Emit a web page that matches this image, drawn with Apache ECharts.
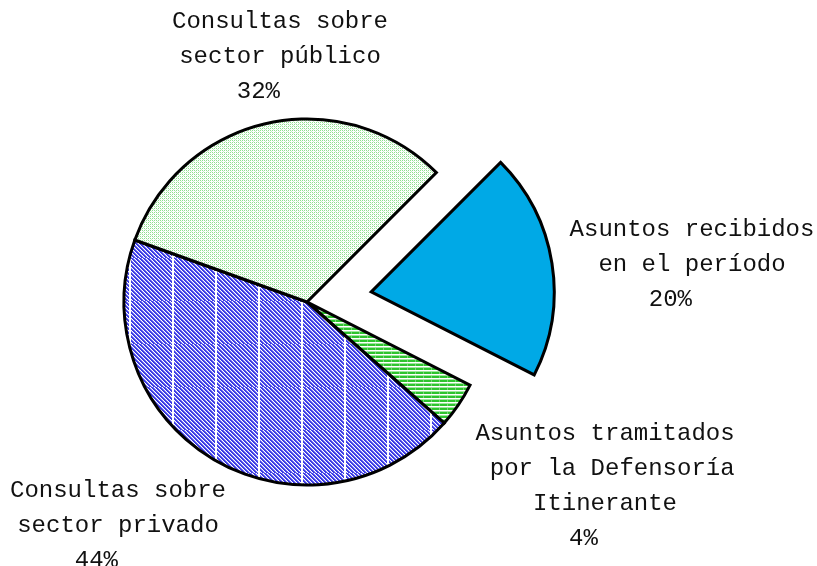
<!DOCTYPE html>
<html>
<head>
<meta charset="utf-8">
<script src="https://cdn.jsdelivr.net/npm/echarts@6/dist/echarts.min.js"></script>
<style>
  html, body { margin: 0; padding: 0; background: #fff; }
  #chart { width: 817px; height: 566px; }
</style>
</head>
<body>
<div id="chart"></div>
<script>
// datos del gráfico (orden horario desde arriba a la derecha)
const categories = [
  'Asuntos recibidos\nen el período',
  'Asuntos tramitados\n por la Defensoría\nItinerante',
  'Consultas sobre\nsector privado',
  'Consultas sobre\nsector público'
]
const values = [20, 4, 44, 32]
const percentLabels = ['20%', '4%', '44%', '32%']

// posición de cada rótulo (centro del bloque de texto)
const labelPos = [[692, 265], [605, 486], [118, 526], [280, 57]]

// tramas de relleno
function makeTile (w, h, draw) {
  const c = document.createElement('canvas')
  c.width = w
  c.height = h
  const ctx = c.getContext('2d')
  ctx.fillStyle = '#fff'
  ctx.fillRect(0, 0, w, h)
  draw(ctx)
  return c
}

// punteado verde claro
const dotTile = makeTile(4, 4, function (ctx) {
  ctx.fillStyle = '#8fe08f'
  ctx.fillRect(0, 0, 1, 1)
  ctx.fillRect(2, 0, 1, 1)
  ctx.fillRect(0, 2, 1, 1)
  ctx.fillRect(2, 2, 1, 1)
  ctx.fillStyle = '#c9f0c9'
  ctx.fillRect(1, 1, 1, 1)
  ctx.fillRect(3, 3, 1, 1)
})

// diagonal azul con líneas blancas verticales
const blueTile = makeTile(43, 43, function (ctx) {
  ctx.fillStyle = '#3a3ae6'
  for (let y = 0; y < 43; y++) {
    for (let x = 0; x < 43; x++) {
      const d = (x - y + 430) % 4
      if (d === 0 || d === 1) ctx.fillRect(x, y, 1, 1)
    }
  }
  ctx.fillStyle = '#9090f0'
  for (let y = 0; y < 43; y++) {
    for (let x = 0; x < 43; x++) {
      if ((x - y + 430) % 4 === 2) ctx.fillRect(x, y, 1, 1)
    }
  }
  ctx.fillStyle = '#fff'
  ctx.fillRect(0, 0, 2, 43)
})

// rayado horizontal verde
const stripeTile = makeTile(8, 4, function (ctx) {
  ctx.fillStyle = '#2ec42e'
  ctx.fillRect(0, 0, 8, 2)
  ctx.fillStyle = '#9ee69e'
  ctx.fillRect(0, 3, 8, 1)
  ctx.fillStyle = '#7ad67a'
  ctx.fillRect(7, 0, 1, 2)
})

const fills = [
  '#00a9e6',
  { image: stripeTile, repeat: 'repeat' },
  { image: blueTile, repeat: 'repeat' },
  { image: dotTile, repeat: 'repeat' }
]

const pieBase = {
  type: 'pie',
  center: [307, 302],
  radius: 183,
  startAngle: 45,
  clockwise: true,
  emphasis: { disabled: true }
}

const chart = echarts.init(document.getElementById('chart'), null, { renderer: 'canvas' })
const option = {
  animation: false,
  series: [
    // sectores
    Object.assign({}, pieBase, {
      selectedMode: 'single',
      selectedOffset: 65,
      itemStyle: {
        borderColor: '#000',
        borderWidth: 3,
        borderJoin: 'miter'
      },
      label: { show: false },
      labelLine: { show: false },
      data: categories.map(function (name, i) {
        return {
          name: name,
          value: values[i],
          selected: i === 0,
          itemStyle: { color: fills[i] }
        }
      })
    }),
    // rótulos
    Object.assign({}, pieBase, {
      silent: true,
      selectedMode: false,
      itemStyle: { color: 'rgba(0,0,0,0)', borderWidth: 0 },
      label: {
        show: true,
        position: 'inside',
        overflow: 'none',
        fontFamily: 'Liberation Mono',
        fontSize: 24,
        lineHeight: 35,
        color: '#111',
        align: 'center',
        formatter: function (p) {
          return p.name + '\n' + percentLabels[p.dataIndex] + '   '
        }
      },
      labelLine: { show: false },
      labelLayout: function (p) {
        const pos = labelPos[p.dataIndex]
        return { x: pos[0], y: pos[1], align: 'center', verticalAlign: 'middle' }
      },
      data: categories.map(function (name, i) {
        return { name: name, value: values[i] }
      })
    })
  ]
}
chart.setOption(option)
</script>
</body>
</html>
